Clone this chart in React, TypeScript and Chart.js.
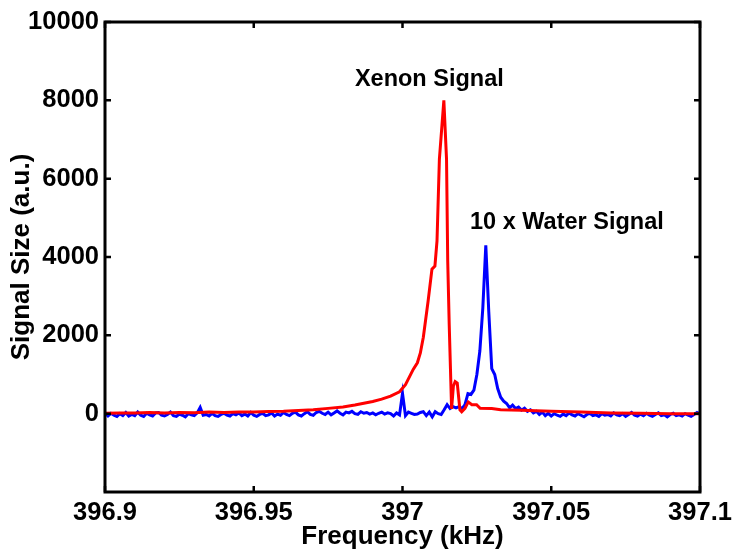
import React, { useEffect, useRef } from 'react';
import { Chart, registerables } from 'chart.js';

Chart.register(...registerables);

// ---- Data ----
const xTickValues = [396.9, 396.95, 397, 397.05, 397.1];
const yTickValues = [0, 2000, 4000, 6000, 8000, 10000];

// Xenon signal (red)
const redFreq = [
  396.900, 396.905, 396.910, 396.915, 396.920, 396.925, 396.930, 396.935, 396.940, 396.945,
  396.950, 396.955, 396.960, 396.965, 396.970, 396.975, 396.980, 396.984, 396.987, 396.990,
  396.993, 396.996, 396.999, 397.001, 397.0036, 397.005, 397.006, 397.007, 397.0086, 397.0099,
  397.0109, 397.0116, 397.0124, 397.0139, 397.0148, 397.0152, 397.0157, 397.0165, 397.0171, 397.0177,
  397.0184, 397.0193, 397.0199, 397.021, 397.0221, 397.0233, 397.0249, 397.0261, 397.030, 397.033,
  397.040, 397.050, 397.060, 397.070, 397.080, 397.090, 397.100,
];
const redSignal = [
  10, 20, 15, 30, 20, 30, 25, 40, 30, 45,
  40, 55, 60, 80, 100, 135, 170, 220, 265, 310,
  370, 450, 560, 740, 1130, 1300, 1550, 1950, 2870, 3690,
  3770, 4410, 6500, 8000, 6500, 3900, 2280, 120, 700, 820,
  780, 100, 50, 135, 300, 230, 230, 135, 130, 100,
  90, 60, 40, 20, 10, 0, 0,
];

// 10 x Water signal (blue), sampled on a regular frequency grid
const blueFreqStart = 396.9;
const blueFreqStep = 0.001;
const blueSignal = [
  20, -60, 10, -40, -70, 0, -50, 30, -60, -20,
  -50, 40, -40, -70, 10, -30, -60, 20, 30, -40,
  -60, -20, 40, -50, -70, -10, -40, -80, 0, -30,
  -50, 20, 160, -40, -20, -60, 10, -50, -70, -20,
  10, -40, -60, 0, -30, 20, -50, -10, -60, 30,
  -40, -70, -20, 10, -50, -30, 20, -60, -10, -40,
  30, -20, -50, 10, 40, -30, -60, 0, 50, -20,
  -40, 30, 60, 10, -20, 40, -30, 20, 70, 10,
  -30, 40, 20, 60, 0, -20, 50, 10, 30, -10,
  20, -30, 10, 40, -10, 20, 0, -60, 20, -30,
  520, -50, 40, 10, -20, -10, 30, 50, -50, 40,
  -80, 50, 0, -20, 100, 230, 130, 180, 150, 180,
  130, 230, 510, 490, 600, 1000, 1600, 2700, 4300, 2600,
  1150, 1000, 640, 420, 320, 260, 150, 220, 130, 170,
  90, 140, 60, 100, 20, 60, -20, 40, -50, 10,
  -60, 0, -40, -70, -10, -50, 20, -30, -60, 0,
  -40, -80, -20, 10, -50, -30, -70, 0, -40, -20,
  -60, 20, -30, -50, 0, -70, -20, 30, -40, -60,
  -10, -50, 10, -40, -70, -20, 20, -50, -30, -80,
  -20, 10, -50, -30, -60, 0, -40, -70, -20, 30,
  -10,
];

const annotations = [
  { text: 'Xenon Signal', x: 396.984, y: 8360 },
  { text: '10 x Water Signal', x: 397.0227, y: 4720 },
];

const FONT = 'Arial, "Liberation Sans", Helvetica, sans-serif';

const framePlugin = {
  id: 'matlabFrame',
  afterDatasetsDraw(chart: any) {
    const { ctx, chartArea, scales } = chart;
    const { left, right, top, bottom } = chartArea;
    ctx.save();
    ctx.strokeStyle = '#000';
    ctx.lineWidth = 2.5;
    const tl = 6;
    ctx.beginPath();
    scales.x.ticks.forEach((t: any) => {
      const px = scales.x.getPixelForValue(t.value);
      ctx.moveTo(px, bottom);
      ctx.lineTo(px, bottom - tl);
      ctx.moveTo(px, top);
      ctx.lineTo(px, top + tl);
    });
    scales.y.ticks.forEach((t: any) => {
      const py = scales.y.getPixelForValue(t.value);
      ctx.moveTo(left, py);
      ctx.lineTo(left + tl, py);
      ctx.moveTo(right, py);
      ctx.lineTo(right - tl, py);
    });
    ctx.stroke();
    ctx.lineWidth = 3;
    ctx.strokeRect(left, top, right - left, bottom - top);
    ctx.fillStyle = '#000';
    ctx.font = `bold 23.5px ${FONT}`;
    ctx.textAlign = 'left';
    ctx.textBaseline = 'alphabetic';
    annotations.forEach((a) => {
      ctx.fillText(a.text, scales.x.getPixelForValue(a.x), scales.y.getPixelForValue(a.y));
    });
    ctx.restore();
  },
};

export default function App() {
  const ref = useRef<HTMLCanvasElement | null>(null);

  useEffect(() => {
    if (!ref.current) return;
    const redData = redFreq.map((f, i) => ({ x: f, y: redSignal[i] }));
    const blueData = blueSignal.map((v, i) => ({ x: blueFreqStart + i * blueFreqStep, y: v }));

    const chart = new Chart(ref.current, {
      type: 'line',
      data: {
        datasets: [
          {
            label: 'Xenon Signal',
            data: redData,
            borderColor: '#ff0000',
            borderWidth: 3,
            pointRadius: 0,
            tension: 0,
            fill: false,
          },
          {
            label: '10 x Water Signal',
            data: blueData,
            borderColor: '#0000ff',
            borderWidth: 3,
            pointRadius: 0,
            tension: 0,
            fill: false,
          },
        ],
      },
      options: {
        animation: false,
        responsive: false,
        devicePixelRatio: 1,
        layout: { padding: { top: 22, right: 34, left: 0, bottom: 0 } },
        plugins: {
          legend: { display: false },
          tooltip: { enabled: false },
        },
        scales: {
          x: {
            type: 'linear',
            min: 396.9,
            max: 397.1,
            grid: { display: false, drawTicks: false },
            border: { display: false },
            afterBuildTicks: (scale: any) => {
              scale.ticks = xTickValues.map((v) => ({ value: v }));
            },
            afterFit: (scale: any) => {
              scale.height = 61;
              scale.paddingLeft = 0;
              scale.paddingRight = 0;
            },
            ticks: {
              autoSkip: false,
              maxRotation: 0,
              padding: 6,
              color: '#000',
              font: { family: FONT, size: 25.5, weight: 'bold' },
              callback: (v: any) => String(Number(v)),
            },
            title: {
              display: true,
              text: 'Frequency (kHz)',
              color: '#000',
              font: { family: FONT, size: 26, weight: 'bold' },
              padding: { top: 0, bottom: 1 },
            },
          },
          y: {
            type: 'linear',
            min: -2000,
            max: 10000,
            grid: { display: false, drawTicks: false },
            border: { display: false },
            afterBuildTicks: (scale: any) => {
              scale.ticks = yTickValues.map((v) => ({ value: v }));
            },
            afterFit: (scale: any) => {
              scale.width = 105;
              scale.paddingTop = 0;
              scale.paddingBottom = 0;
            },
            ticks: {
              autoSkip: false,
              padding: 6,
              color: '#000',
              font: { family: FONT, size: 25.5, weight: 'bold' },
              callback: (v: any) => String(v),
            },
            title: {
              display: true,
              text: 'Signal Size (a.u.)',
              color: '#000',
              font: { family: FONT, size: 26, weight: 'bold' },
              padding: { top: 6, bottom: 0 },
            },
          },
        },
      },
      plugins: [framePlugin],
    });
    return () => chart.destroy();
  }, []);

  return (
    <div style={{ position: 'fixed', left: 0, top: 0, width: 734, height: 553, background: '#fff' }}>
      <canvas ref={ref} width={734} height={553} style={{ display: 'block' }} />
    </div>
  );
}
